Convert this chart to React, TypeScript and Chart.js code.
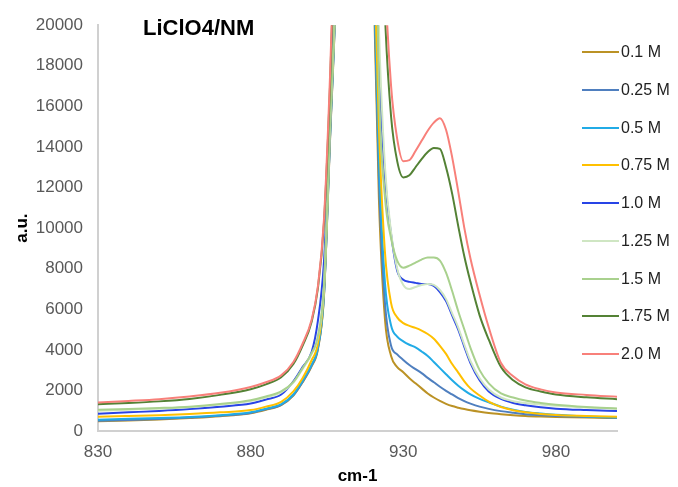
import React, { useEffect, useRef } from 'react';
import { Chart, registerables } from 'chart.js';

Chart.register(...registerables);

// ---------- data ----------
const WAVENUMBERS = [
  830, 840, 850, 860, 870, 880, 885, 890, 894, 897, 900, 902, 904, 906, 908, 914,
  920, 922, 924, 926, 928, 930, 932, 934, 936, 938, 940, 942, 944, 946, 948, 950,
  952, 955, 958, 962, 966, 970, 975, 980, 990, 1000,
];

const S_0_1 = [
  480, 520, 570, 640, 730, 880, 1050, 1280, 1750, 2400, 3200, 4000, 6600, 14300, 22000, 60000,
  24000, 11500, 5500, 3700, 3150, 2900, 2600, 2350, 2100, 1850, 1650, 1480, 1340, 1230, 1150, 1080,
  1020, 950, 890, 830, 780, 740, 710, 690, 660, 640,
];
const S_0_25 = [
  500, 540, 590, 660, 750, 890, 1070, 1290, 1770, 2420, 3230, 4050, 6650, 14400, 22100, 60000,
  24500, 12500, 6300, 4200, 3780, 3500, 3250, 3050, 2850, 2620, 2400, 2180, 1980, 1800, 1620, 1470,
  1350, 1200, 1090, 980, 900, 830, 780, 740, 700, 660,
];
const S_0_5 = [
  560, 600, 640, 690, 780, 920, 1100, 1320, 1800, 2470, 3280, 4100, 6700, 14500, 22200, 60000,
  25000, 13500, 7300, 5200, 4650, 4420, 4250, 4120, 3920, 3700, 3400, 3100, 2800, 2500, 2230, 2000,
  1800, 1580, 1410, 1200, 1050, 940, 860, 800, 720, 660,
];
const S_0_75 = [
  700, 740, 780, 840, 920, 1030, 1200, 1440, 1950, 2600, 3500, 4300, 6900, 14800, 22500, 60000,
  26000, 15000, 8800, 6300, 5600, 5320, 5180, 5080, 4950, 4780, 4550, 4200, 3800, 3300, 2880, 2450,
  2100, 1750, 1450, 1180, 1020, 920, 840, 790, 740, 700,
];
const S_1_0 = [
  850, 920, 990, 1080, 1200, 1350, 1550, 1800, 2450, 3150, 3900, 5400, 8300, 15000, 23500, 60000,
  30000, 18500, 12500, 9700, 7900, 7450, 7350, 7300, 7250, 7250, 7150, 6850, 6400, 5700, 5000, 4150,
  3350, 2500, 1950, 1580, 1380, 1270, 1170, 1100, 1030, 980,
];
const S_1_25 = [
  1000, 1050, 1100, 1170, 1300, 1480, 1650, 1900, 2380, 3050, 3800, 4600, 7100, 15000, 22500, 60000,
  34000, 20000, 13000, 9800, 8000, 7200, 7000, 7100, 7200, 7250, 7200, 6950, 6500, 5800, 5100, 4250,
  3450, 2600, 2050, 1650, 1470, 1380, 1300, 1240, 1160, 1100,
];
const S_1_5 = [
  1050, 1080, 1130, 1200, 1330, 1520, 1700, 1950, 2420, 3100, 3850, 4650, 7150, 15100, 22700, 60000,
  35000, 17000, 11500, 9500, 8400, 8050, 8150, 8300, 8450, 8550, 8550, 8400, 7800, 6900, 5900, 5000,
  4100, 3000, 2350, 1850, 1650, 1500, 1380, 1290, 1180, 1110,
];
const S_1_75 = [
  1320, 1380, 1460, 1580, 1780, 2060, 2300, 2650, 3300, 4200, 5400, 7000, 10200, 17000, 26500, 60000,
  45000, 30000, 20500, 15500, 13300, 12500, 12600, 13000, 13400, 13750, 13950, 13900, 13000, 11700, 10100, 8600,
  7350, 5700, 4500, 3150, 2500, 2150, 1950, 1800, 1660, 1570,
];
const S_2_0 = [
  1400, 1480, 1570, 1700, 1880, 2170, 2400, 2740, 3400, 4300, 5500, 7100, 10400, 17500, 27000, 60000,
  48000, 33000, 22500, 17000, 14400, 13300, 13350, 13800, 14300, 14800, 15200, 15420, 14850, 13500, 11800, 10000,
  8500, 6700, 5100, 3350, 2700, 2300, 2050, 1900, 1780, 1690,
];

const SERIES_LABELS = ['0.1 M', '0.25 M', '0.5 M', '0.75 M', '1.0 M', '1.25 M', '1.5 M', '1.75 M', '2.0 M'];
const SERIES_COLORS = [
  '#BB9225', '#4F7FBF', '#21ABE6', '#FFC000', '#2844E6', '#CFE6C3', '#A9D18E', '#548235', '#F8807A',
];

const X_TICKS = [830, 880, 930, 980];
const Y_TICKS = [0, 2000, 4000, 6000, 8000, 10000, 12000, 14000, 16000, 18000, 20000];
const CHART_TITLE = 'LiClO4/NM';
const X_TITLE = 'cm-1';
const Y_TITLE = 'a.u.';

const FONT = '"Liberation Sans", Arial, Helvetica, sans-serif';

export default function App() {
  const canvasRef = useRef<HTMLCanvasElement>(null);

  useEffect(() => {
    const series = [S_0_1, S_0_25, S_0_5, S_0_75, S_1_0, S_1_25, S_1_5, S_1_75, S_2_0];
    Chart.defaults.font.family = FONT;
    const chart = new Chart(canvasRef.current as HTMLCanvasElement, {
      type: 'line',
      data: {
        datasets: series.map((vals, i) => ({
          label: SERIES_LABELS[i],
          data: WAVENUMBERS.map((x, j) => ({ x, y: vals[j] })),
          borderColor: SERIES_COLORS[i],
          backgroundColor: SERIES_COLORS[i],
          borderWidth: 2,
          pointRadius: 0,
          fill: false,
          cubicInterpolationMode: 'monotone',
          order: series.length - 1 - i,
        })),
      },
      options: {
        responsive: false,
        animation: false,
        events: [],
        layout: { padding: { left: 0, top: 23, right: 61, bottom: 0 } },
        plugins: {
          legend: { display: false },
          tooltip: { enabled: false },
          title: { display: false },
        },
        scales: {
          x: {
            type: 'linear',
            min: 830,
            max: 1000,
            afterBuildTicks: (axis: any) => {
              axis.ticks = X_TICKS.map((v) => ({ value: v }));
            },
            afterFit: (s: any) => {
              s.height = 56;
            },
            grid: { display: false, drawTicks: false },
            border: { display: true, color: '#D0D0D0', width: 2 },
            ticks: {
              color: '#595959',
              font: { size: 17 },
              padding: 11,
              maxRotation: 0,
              autoSkip: false,
              callback: (v: any) => String(v),
            },
            title: {
              display: true,
              text: X_TITLE,
              color: '#000000',
              font: { size: 17, weight: 'bold' },
              padding: { top: 0, bottom: 0 },
            },
          },
          y: {
            type: 'linear',
            min: 0,
            max: 20000,
            afterBuildTicks: (axis: any) => {
              axis.ticks = Y_TICKS.map((v) => ({ value: v }));
            },
            afterFit: (s: any) => {
              s.width = 98;
            },
            grid: { display: false, drawTicks: false },
            border: { display: true, color: '#D0D0D0', width: 2 },
            ticks: {
              color: '#595959',
              font: { size: 17 },
              padding: 15,
              autoSkip: false,
              callback: (v: any) => String(v),
            },
            title: {
              display: true,
              text: Y_TITLE,
              color: '#000000',
              font: { size: 17, weight: 'bold' },
              padding: { top: 12, bottom: 0 },
            },
          },
        },
      } as any,
    });
    return () => chart.destroy();
  }, []);

  return (
    <div style={{ position: 'fixed', left: 0, top: 0, width: 678, height: 487, background: '#fff', fontFamily: FONT }}>
      <canvas ref={canvasRef} width={678} height={487} style={{ position: 'absolute', left: 0, top: 0 }} />
      <div
        style={{
          position: 'absolute',
          left: 143,
          top: 17,
          fontSize: 22,
          lineHeight: '22px',
          fontWeight: 'bold',
          color: '#000',
          whiteSpace: 'nowrap',
        }}
      >
        {CHART_TITLE}
      </div>
      {SERIES_LABELS.map((label, i) => (
        <div
          key={label}
          style={{
            position: 'absolute',
            left: 582,
            top: 52 + i * 37.75 - 10,
            height: 20,
            display: 'flex',
            alignItems: 'center',
            whiteSpace: 'nowrap',
          }}
        >
          <span style={{ display: 'inline-block', width: 37, height: 2, background: SERIES_COLORS[i] }} />
          <span style={{ marginLeft: 2, fontSize: 16, lineHeight: '20px', color: '#222' }}>{label}</span>
        </div>
      ))}
    </div>
  );
}
